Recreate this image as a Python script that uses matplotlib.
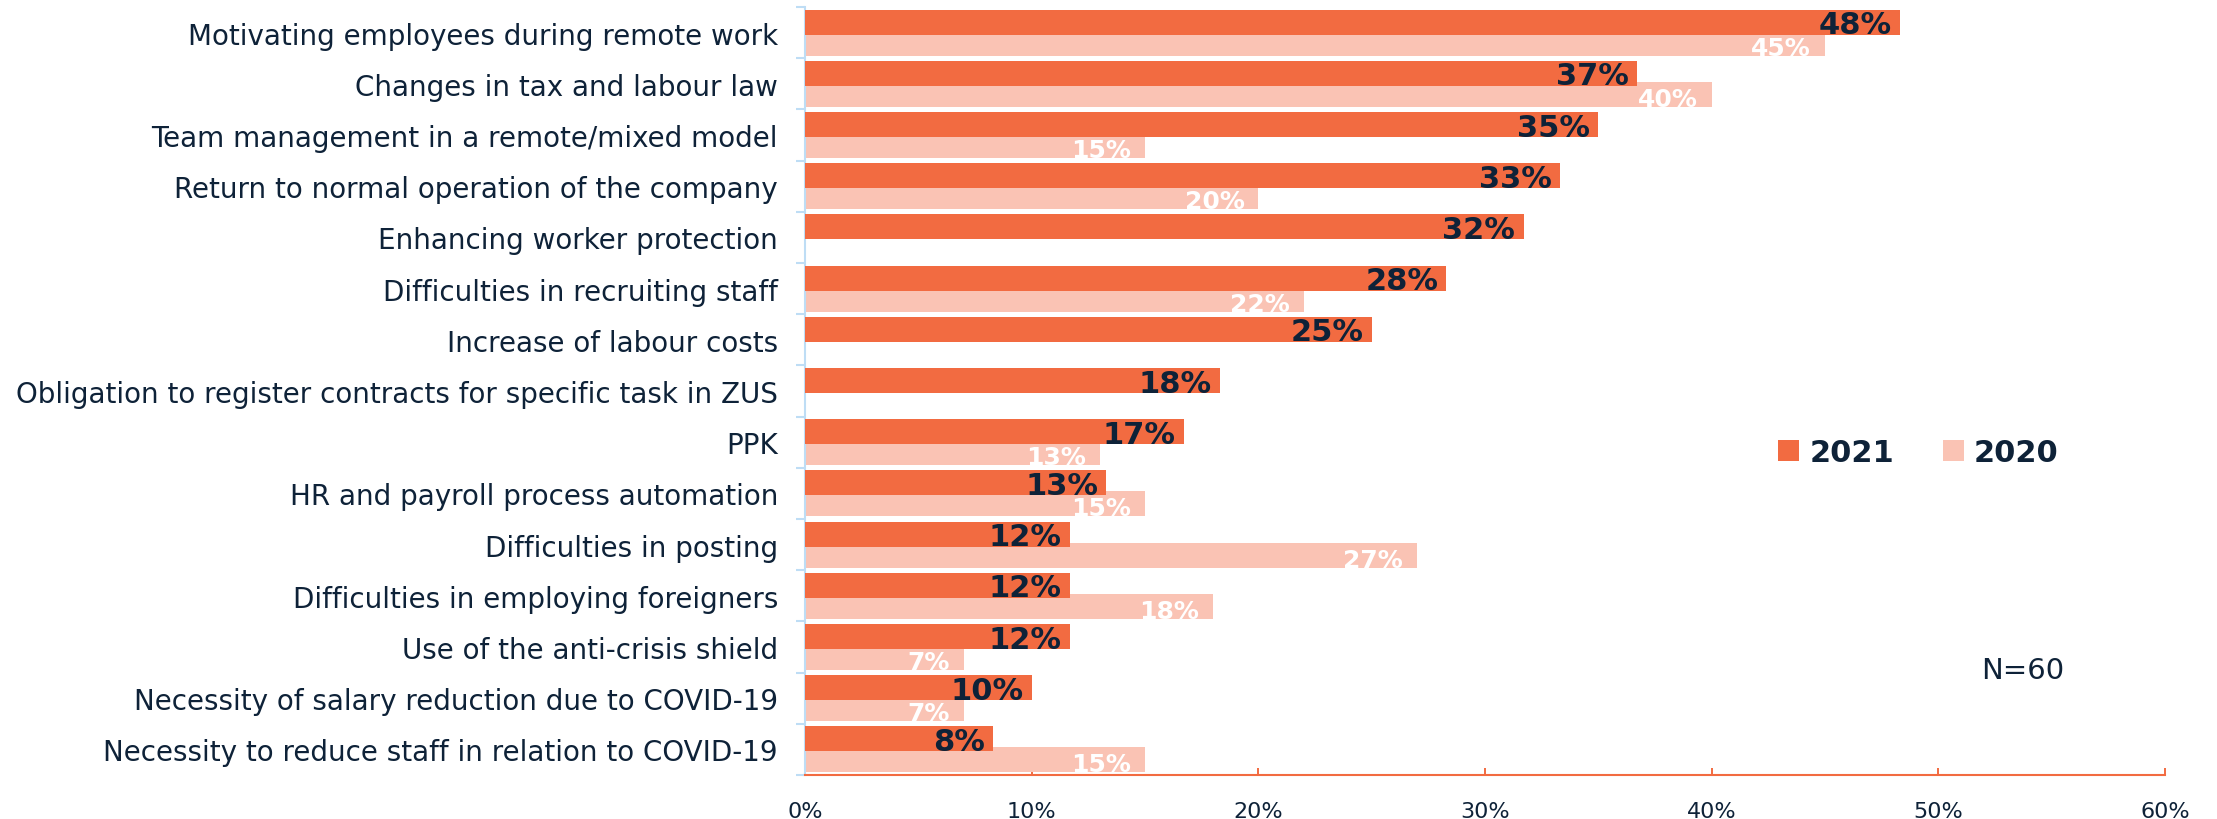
import numpy as np
import matplotlib
matplotlib.use('Agg')
import matplotlib.pyplot as plt

categories = [
    'Motivating employees during remote work',
    'Changes in tax and labour law',
    'Team management in a remote/mixed model',
    'Return to normal operation of the company',
    'Enhancing worker protection',
    'Difficulties in recruiting staff',
    'Increase of labour costs',
    'Obligation to register contracts for specific task in ZUS',
    'PPK',
    'HR and payroll process automation',
    'Difficulties in posting',
    'Difficulties in employing foreigners',
    'Use of the anti-crisis shield',
    'Necessity of salary reduction due to COVID-19',
    'Necessity to reduce staff in relation to COVID-19',
]
values_2021 = [48.3, 36.7, 35.0, 33.3, 31.7, 28.3, 25.0, 18.3, 16.7, 13.3, 11.7, 11.7, 11.7, 10.0, 8.3]
# no 2020 value for the new items
values_2020 = [45, 40, 15, 20, None, 22, None, None, 13, 15, 27, 18, 7, 7, 15]
xticks = [0, 10, 20, 30, 40, 50, 60]
note = 'N=60'

orange = '#F26B41'
light = '#FAC3B4'
navy = '#0E2238'
blue = '#BEDDF5'

plt.rcParams['font.family'] = ['DejaVu Sans']

W, H = 2217, 820
fig = plt.figure(figsize=(W / 100, H / 100), dpi=100)
ax = fig.add_axes([805 / W, 1 - 776 / H, 1360 / W, 768 / H])

y = np.arange(len(categories))
v20 = np.array([np.nan if v is None else v for v in values_2020], dtype=float)
has20 = ~np.isnan(v20)

b21 = ax.barh(y - 0.205, values_2021, height=0.49, color=orange, zorder=3)
b20 = ax.barh(y[has20] + 0.205, v20[has20], height=0.49, color=light, zorder=2)

for yi, v in zip(y, values_2021):
    ax.annotate(f'{round(v)}%', xy=(v, yi - 0.205), xytext=(-6, -8.0),
                textcoords='offset points', ha='right', va='baseline',
                fontsize=22, fontweight='bold', color=navy, zorder=5)
for yi, v in zip(y[has20], v20[has20]):
    ax.annotate(f'{round(v)}%', xy=(v, yi + 0.205), xytext=(-10, -8.3),
                textcoords='offset points', ha='right', va='baseline',
                fontsize=18, fontweight='bold', color='white', zorder=4)

ax.set_xlim(0, 60)
ax.set_ylim(len(categories) - 0.5, -0.5)
ax.set_xticks(xticks)
ax.set_xticklabels([f'{t}%' for t in xticks])
ax.set_yticks(y)
ax.set_yticklabels(categories)
ax.set_yticks(np.arange(-0.5, len(categories), 1), minor=True)

ax.tick_params(axis='y', which='major', length=0, pad=19.4, labelsize=20, labelcolor=navy)
ax.tick_params(axis='y', which='minor', length=6.5, width=1.5, color=blue, direction='out')
ax.tick_params(axis='x', which='major', direction='in', length=5, width=1.4, color=orange,
               pad=19, labelsize=16, labelcolor=navy)

for s in ['top', 'right']:
    ax.spines[s].set_visible(False)
ax.spines['left'].set_color(blue)
ax.spines['left'].set_linewidth(1.5)
ax.spines['bottom'].set_color(orange)
ax.spines['bottom'].set_linewidth(1.5)
ax.spines['bottom'].set_zorder(6)

ax.legend([b21, b20], ['2021', '2020'], ncol=2, loc='center left',
          bbox_to_anchor=(1778 / W, 1 - 454 / H), bbox_transform=fig.transFigure,
          frameon=False, prop=dict(weight='bold', size=22), labelcolor=navy,
          handlelength=0.69, handleheight=0.69, handletextpad=0.33,
          columnspacing=1.6, borderpad=0, borderaxespad=0)

fig.text(2064 / W, 1 - 679 / H, note, ha='right', va='baseline', fontsize=21, color=navy)

fig.savefig('out.png', dpi=100)
